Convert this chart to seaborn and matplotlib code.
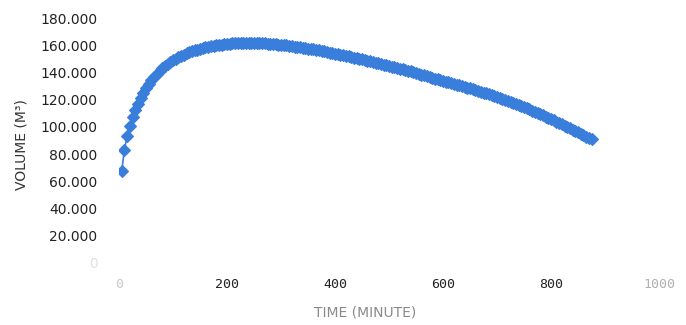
import numpy as np
import pandas as pd
import matplotlib
matplotlib.use("Agg")
import matplotlib.pyplot as plt
import seaborn as sns
from matplotlib.ticker import FuncFormatter

# time sampling (minutes), one reading every 5 minutes
time_min = list(range(5, 880, 5))

volume_m3 = [
    67600, 83000, 93400, 100700, 107000, 112300, 117000, 121200, 125000, 128400,
    131400, 134100, 136600, 138900, 141000, 142900, 144600, 146200, 147600, 148900,
    150100, 151200, 152200, 153100, 154000, 154800, 155500, 156200, 156800, 157400,
    157900, 158400, 158800, 159200, 159600, 159900, 160200, 160500, 160700, 160900,
    161100, 161300, 161400, 161500, 161600, 161700, 161700, 161700, 161700, 161700,
    161600, 161500, 161400, 161300, 161200, 161000, 160800, 160600, 160400, 160200,
    160000, 159800, 159500, 159300, 159000, 158700, 158400, 158100, 157800, 157500,
    157200, 156900, 156500, 156200, 155800, 155400, 155000, 154600, 154200, 153800,
    153400, 153000, 152600, 152200, 151800, 151400, 150900, 150500, 150100, 149600,
    149200, 148700, 148300, 147800, 147300, 146800, 146300, 145800, 145300, 144800,
    144300, 143800, 143300, 142800, 142300, 141700, 141200, 140700, 140100, 139600,
    139000, 138400, 137900, 137300, 136700, 136100, 135500, 134900, 134300, 133700,
    133200, 132700, 132200, 131700, 131100, 130600, 130000, 129500, 128900, 128300,
    127700, 127100, 126500, 125900, 125200, 124600, 123900, 123300, 122600, 121900,
    121200, 120500, 119800, 119100, 118300, 117600, 116800, 116000, 115200, 114400,
    113600, 112800, 112000, 111100, 110300, 109400, 108500, 107600, 106700, 105800,
    104900, 103900, 102900, 101900, 100900, 99900, 98900, 97900, 96900, 95900,
    94900, 93900, 92900, 91900, 90900,
]

x_ticks = [0, 200, 400, 600, 800, 1000]
y_ticks = [0, 20000, 40000, 60000, 80000, 100000, 120000, 140000, 160000, 180000]
x_title = "TIME (MINUTE)"
y_title = "VOLUME (M³)"

df = pd.DataFrame({"time": time_min, "volume": volume_m3})

sns.set_style("white")
plt.rcParams["font.family"] = ["DejaVu Sans"]

fig = plt.figure(figsize=(6.86, 3.25), dpi=100)
ax = fig.add_axes([119 / 686, 1 - 263 / 325, 540 / 686, (263 - 18) / 325])

blue = "#3a7edb"
sns.lineplot(data=df, x="time", y="volume", ax=ax, color=blue, linewidth=1.2,
             marker="D", markersize=6.4, markeredgecolor=blue, markeredgewidth=0.8)

ax.set_xlim(0, 1000)
ax.set_ylim(0, 180000)
ax.set_xticks(x_ticks)
ax.set_yticks(y_ticks)

def yfmt(v, pos):
    return f"{int(v):,}".replace(",", ".")

ax.yaxis.set_major_formatter(FuncFormatter(yfmt))
ax.tick_params(axis="both", length=0)
ax.tick_params(axis="y", pad=15.5, colors="#222222", labelsize=10)
ax.tick_params(axis="x", pad=11, colors="#222222", labelsize=9.5)
for lab in ax.get_xticklabels():
    lab.set_family("DejaVu Sans Mono")
xl = ax.get_xticklabels()
xl[0].set_color("#c8c8c8")
xl[-1].set_color("#b0b0b0")
yl = ax.get_yticklabels()
yl[0].set_color("#e0e0e0")

for s in ax.spines.values():
    s.set_visible(False)

ax.set_xlabel(x_title, fontsize=10, color="#8a8a8a")
ax.set_ylabel(y_title, fontsize=10, color="#333333")
ax.xaxis.set_label_coords((365 - 119) / 540, -(313 - 263) / 245)
ax.yaxis.set_label_coords(-(119 - 22) / 540, (263 - 145) / 245)
ax.xaxis.label.set_va("center")
ax.yaxis.label.set_va("center")

fig.savefig("out.png", dpi=100)
